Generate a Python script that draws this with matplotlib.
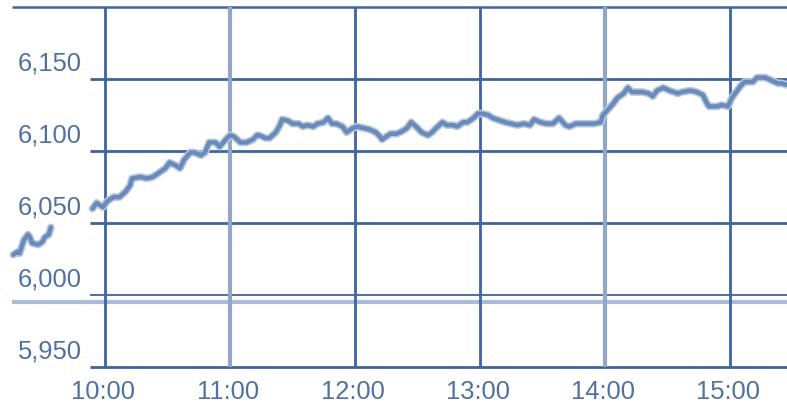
import matplotlib
matplotlib.use("Agg")
import matplotlib.pyplot as plt

# pre-open quotes
pre_times = ["9:16", "9:18", "9:19", "9:21", "9:23", "9:24", "9:25", "9:28",
             "9:30", "9:31", "9:33", "9:34"]
pre_values = [6028, 6030, 6029, 6038, 6042, 6040, 6036, 6035, 6037, 6040, 6042, 6047]

# session quotes
times = ["9:54", "9:56", "9:59", "10:01", "10:04", "10:07", "10:10", "10:12", "10:13",
         "10:17", "10:20", "10:23", "10:26", "10:29", "10:31", "10:34", "10:36", "10:38",
         "10:41", "10:43", "10:46", "10:48", "10:50", "10:53", "10:55", "10:58", "11:00",
         "11:02", "11:05", "11:08", "11:11", "11:13", "11:14", "11:17", "11:19", "11:22",
         "11:24", "11:25", "11:28", "11:30", "11:33", "11:35", "11:37", "11:40", "11:42",
         "11:45", "11:47", "11:49", "11:51", "11:54", "11:56", "11:59", "12:01", "12:04",
         "12:07", "12:10", "12:12", "12:13", "12:17", "12:20", "12:23", "12:25", "12:27",
         "12:30", "12:32", "12:35", "12:37", "12:39", "12:42", "12:44", "12:47", "12:49",
         "12:52", "12:54", "12:57", "12:59", "13:01", "13:04", "13:06", "13:10", "13:12",
         "13:15", "13:18", "13:21", "13:24", "13:26", "13:29", "13:32", "13:35", "13:38",
         "13:41", "13:43", "13:46", "13:49", "13:52", "13:55", "13:58", "13:59", "14:01",
         "14:04", "14:06", "14:09", "14:11", "14:13", "14:18", "14:21", "14:23", "14:25",
         "14:28", "14:31", "14:35", "14:37", "14:41", "14:44", "14:47", "14:49", "14:50",
         "14:54", "14:56", "14:59", "15:01", "15:05", "15:07", "15:11", "15:13", "15:17",
         "15:20", "15:23", "15:25", "15:27"]
values = [6060, 6064, 6061, 6065, 6068, 6068, 6072, 6076, 6081,
          6082, 6081, 6082, 6085, 6088, 6092, 6090, 6088, 6094,
          6099, 6099, 6097, 6099, 6106, 6106, 6103, 6108, 6111,
          6110, 6106, 6106, 6108, 6111, 6111, 6109, 6109, 6113,
          6118, 6122, 6121, 6119, 6119, 6117, 6118, 6117, 6119,
          6120, 6123, 6119, 6119, 6117, 6113, 6116, 6117, 6116,
          6115, 6113, 6110, 6108, 6112, 6112, 6114, 6116, 6120,
          6116, 6113, 6111, 6113, 6116, 6120, 6118, 6118, 6117,
          6120, 6120, 6123, 6126, 6126, 6125, 6123, 6121, 6120,
          6119, 6118, 6119, 6118, 6122, 6120, 6119, 6119, 6123,
          6118, 6117, 6119, 6119, 6119, 6119, 6120, 6125, 6128,
          6133, 6137, 6140, 6144, 6141, 6141, 6140, 6138, 6142,
          6144, 6142, 6140, 6141, 6142, 6141, 6139, 6133, 6131,
          6131, 6132, 6131, 6137, 6145, 6148, 6148, 6151, 6151,
          6149, 6147, 6147, 6146]

prev_close = 5995
y_ticks = [5950, 6000, 6050, 6100, 6150]
y_labels = ["5,950", "6,000", "6,050", "6,100", "6,150"]
x_labels = ["10:00", "11:00", "12:00", "13:00", "14:00", "15:00"]


def to_min(s):
    h, m = s.split(":")
    return (int(h) - 9) * 60 + int(m)


dark = "#3f64a0"
light = "#8fa7c9"
txt = "#4f72a3"
line_c = "#6a8bba"

fig = plt.figure(figsize=(7.87, 4.03), dpi=100)
ax = fig.add_axes([0, 0, 1, 1])
ax.set_xlim(9.6, 387.4)
ax.set_ylim(5925, 6204.9)
ax.axis("off")

x_ticks = [to_min(s) for s in x_labels]

# horizontal grid
ax.hlines(6200, 15.4, 387.4, color=dark, lw=1.8)
for v in [5950, 6050, 6100, 6150]:
    ax.hlines(v, 52.8, 387.4, color=dark, lw=2.0)
ax.hlines(6000, 52.8, 387.4, color=dark, lw=1.3)
ax.hlines(prev_close, 15.4, 387.4, color="#aabdd8", lw=3.0)

# vertical grid
for i, t in enumerate(x_ticks):
    if x_labels[i] in ("11:00", "14:00"):
        ax.vlines(t, 5950, 6200, color=light, lw=3.0)
    else:
        ax.vlines(t, 5950, 6200, color=dark, lw=2.0)

# price line
pt = [to_min(s) for s in pre_times]
st = [to_min(s) for s in times]
for xs, ys in [(pt, pre_values), (st, values)]:
    ax.plot(xs, ys, color="#b7c8e0", lw=5.5, solid_capstyle="round", zorder=3)
    ax.plot(xs, ys, color=line_c, lw=3.2, solid_capstyle="round", zorder=4)

for v, lab in zip(y_ticks, y_labels):
    ax.text(49, v + 5.9, lab, ha="right", va="baseline", color=txt,
            fontsize=18.4, family="Liberation Sans")
for t, lab in zip(x_ticks, x_labels):
    ax.text(t - 1, 5927.5, lab, ha="center", va="baseline", color=txt,
            fontsize=18.4, family="Liberation Sans")

fig.savefig("out.png", dpi=100)
